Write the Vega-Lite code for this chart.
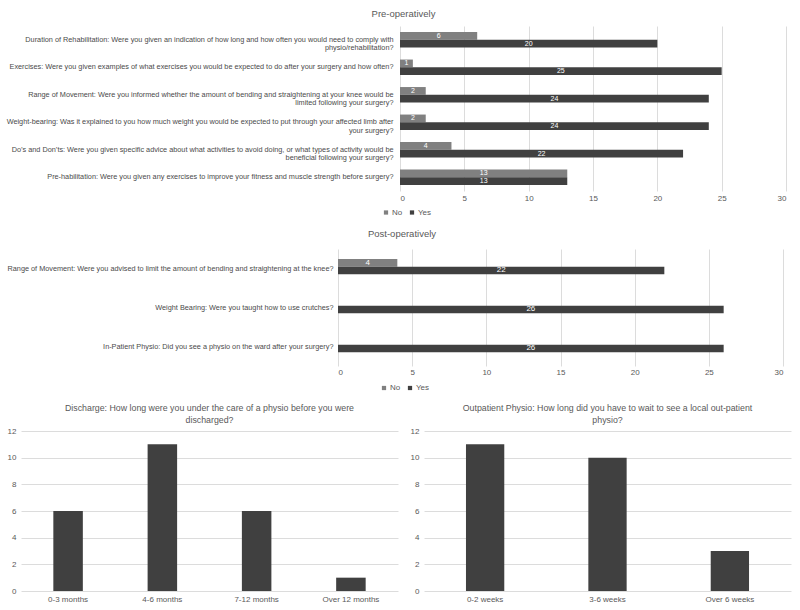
{
  "$schema": "https://vega.github.io/schema/vega-lite/v6.json",
  "padding": {"left": 6, "top": 8, "right": 5, "bottom": 2},
  "datasets": {
    "pre": [
      {"question": "Duration of Rehabilitation: Were you given an indication of how long and how often you would need to comply with|physio/rehabilitation?", "answer": "No", "count": 6},
      {"question": "Duration of Rehabilitation: Were you given an indication of how long and how often you would need to comply with|physio/rehabilitation?", "answer": "Yes", "count": 20},
      {"question": "Exercises: Were you given examples of what exercises you would be expected to do after your surgery and how often?", "answer": "No", "count": 1},
      {"question": "Exercises: Were you given examples of what exercises you would be expected to do after your surgery and how often?", "answer": "Yes", "count": 25},
      {"question": "Range of Movement: Were you informed whether the amount of bending and straightening at your knee would be|limited following your surgery?", "answer": "No", "count": 2},
      {"question": "Range of Movement: Were you informed whether the amount of bending and straightening at your knee would be|limited following your surgery?", "answer": "Yes", "count": 24},
      {"question": "Weight-bearing: Was it explained to you how much weight you would be expected to put through your affected limb after|your surgery?", "answer": "No", "count": 2},
      {"question": "Weight-bearing: Was it explained to you how much weight you would be expected to put through your affected limb after|your surgery?", "answer": "Yes", "count": 24},
      {"question": "Do’s and Don’ts: Were you given specific advice about what activities to avoid doing, or what types of activity would be|beneficial following your surgery?", "answer": "No", "count": 4},
      {"question": "Do’s and Don’ts: Were you given specific advice about what activities to avoid doing, or what types of activity would be|beneficial following your surgery?", "answer": "Yes", "count": 22},
      {"question": "Pre-habilitation: Were you given any exercises to improve your fitness and muscle strength before surgery?", "answer": "No", "count": 13},
      {"question": "Pre-habilitation: Were you given any exercises to improve your fitness and muscle strength before surgery?", "answer": "Yes", "count": 13}
    ],
    "post": [
      {"question": "Range of Movement: Were you advised to limit the amount of bending and straightening at the knee?", "answer": "No", "count": 4},
      {"question": "Range of Movement: Were you advised to limit the amount of bending and straightening at the knee?", "answer": "Yes", "count": 22},
      {"question": "Weight Bearing: Were you taught how to use crutches?", "answer": "Yes", "count": 26},
      {"question": "In-Patient Physio: Did you see a physio on the ward after your surgery?", "answer": "Yes", "count": 26}
    ],
    "discharge": [
      {"period": "0-3 months", "count": 6},
      {"period": "4-6 months", "count": 11},
      {"period": "7-12 months", "count": 6},
      {"period": "Over 12 months", "count": 1}
    ],
    "outpatient": [
      {"period": "0-2 weeks", "count": 11},
      {"period": "3-6 weeks", "count": 10},
      {"period": "Over 6 weeks", "count": 3}
    ]
  },
  "spacing": 12,
  "resolve": {"scale": {"color": "independent"}, "legend": {"color": "independent"}},
  "vconcat": [
    {
      "spacing": 11,
      "resolve": {"scale": {"color": "independent"}, "legend": {"color": "independent"}},
      "vconcat": [
        {
          "title": {"text": "Pre-operatively", "fontSize": 9.5, "offset": 8},
          "width": 765,
          "height": 165,
          "data": {"name": "pre"},
          "encoding": {
            "y": {"field": "question", "type": "nominal", "sort": null,
                  "scale": {"paddingInner": 0.44, "paddingOuter": 0.22},
                  "axis": {"title": null, "offset": -379, "labelPadding": 7, "labelFontSize": 7.3, "labelLineHeight": 8.5, "labelLimit": 0, "labelColor": "#4a4a4a", "labelExpr": "split(datum.label, '|')", "grid": false}},
            "yOffset": {"field": "answer", "type": "nominal", "sort": ["No", "Yes"]}
          },
          "resolve": {"scale": {"x": "independent"}},
          "layer": [
            {
              "mark": {"type": "bar"},
              "encoding": {
                "x": {"field": "count", "type": "quantitative",
                      "scale": {"domain": [0, 30], "range": [379, 765]},
                      "axis": {"title": null, "values": [0, 5, 10, 15, 20, 25, 30], "grid": true, "labelPadding": 3, "labelFontSize": 8}},
                "color": {"field": "answer", "type": "nominal",
                          "scale": {"domain": ["No", "Yes"], "range": ["#808080", "#404040"]},
                          "legend": {"title": null, "orient": "none", "legendX": 361, "legendY": 182.5, "direction": "horizontal", "symbolType": "square", "symbolSize": 18, "labelFontSize": 8, "labelOffset": 2, "labelColor": "#595959", "columnPadding": 5, "symbolStrokeWidth": 0}}
              }
            },
            {
              "mark": {"type": "text", "color": "white", "fontSize": 7},
              "encoding": {
                "x": {"field": "count", "type": "quantitative",
                      "scale": {"domain": [0, 60], "range": [379, 765]}, "axis": null},
                "text": {"field": "count", "type": "quantitative"}
              }
            }
          ]
        },
        {
          "title": {"text": "Post-operatively", "fontSize": 9.5, "offset": 11},
          "width": 762,
          "height": 117,
          "data": {"name": "post"},
          "encoding": {
            "y": {"field": "question", "type": "nominal", "sort": null,
                  "scale": {"paddingInner": 0.51, "paddingOuter": 0.255},
                  "axis": {"title": null, "offset": -317, "labelPadding": 5, "labelFontSize": 7.3, "labelLimit": 0, "labelColor": "#4a4a4a", "grid": false}},
            "yOffset": {"field": "answer", "type": "nominal", "sort": ["No", "Yes"], "scale": {"domain": ["No", "Yes"]}}
          },
          "resolve": {"scale": {"x": "independent"}},
          "layer": [
            {
              "mark": {"type": "bar"},
              "encoding": {
                "x": {"field": "count", "type": "quantitative",
                      "scale": {"domain": [0, 30], "range": [317, 762]},
                      "axis": {"title": null, "values": [0, 5, 10, 15, 20, 25, 30], "grid": true, "labelPadding": 2, "labelFontSize": 8}},
                "color": {"field": "answer", "type": "nominal",
                          "scale": {"domain": ["No", "Yes"], "range": ["#808080", "#404040"]},
                          "legend": {"title": null, "orient": "none", "legendX": 359, "legendY": 135, "direction": "horizontal", "symbolType": "square", "symbolSize": 18, "labelFontSize": 8, "labelOffset": 2, "labelColor": "#595959", "columnPadding": 5, "symbolStrokeWidth": 0}}
              }
            },
            {
              "mark": {"type": "text", "color": "white", "fontSize": 8},
              "encoding": {
                "x": {"field": "count", "type": "quantitative",
                      "scale": {"domain": [0, 60], "range": [317, 762]}, "axis": null},
                "text": {"field": "count", "type": "quantitative"}
              }
            }
          ]
        }
      ]
    },
    {
      "spacing": 12,
      "hconcat": [
        {
          "title": {"text": ["Discharge: How long were you under the care of a physio before you were", "discharged?"], "fontSize": 8.8, "lineHeight": 12, "offset": 2},
          "width": 377,
          "height": 160,
          "data": {"name": "discharge"},
          "mark": {"type": "bar", "color": "#404040"},
          "encoding": {
            "x": {"field": "period", "type": "nominal", "sort": null,
                  "scale": {"paddingInner": 0.687, "paddingOuter": 0.343},
                  "axis": {"title": null, "labelAngle": 0, "labelFontSize": 8, "labelPadding": 4}},
            "y": {"field": "count", "type": "quantitative",
                  "scale": {"domain": [0, 12]},
                  "axis": {"title": null, "values": [0, 2, 4, 6, 8, 10, 12], "grid": true, "labelFontSize": 8, "labelPadding": 5}}
          }
        },
        {
          "title": {"text": ["Outpatient Physio: How long did you have to wait to see a local out-patient", "physio?"], "fontSize": 8.8, "lineHeight": 12, "offset": 2},
          "width": 367,
          "height": 160,
          "data": {"name": "outpatient"},
          "mark": {"type": "bar", "color": "#404040"},
          "encoding": {
            "x": {"field": "period", "type": "nominal", "sort": null,
                  "scale": {"paddingInner": 0.687, "paddingOuter": 0.343},
                  "axis": {"title": null, "labelAngle": 0, "labelFontSize": 8, "labelPadding": 4}},
            "y": {"field": "count", "type": "quantitative",
                  "scale": {"domain": [0, 12]},
                  "axis": {"title": null, "values": [0, 2, 4, 6, 8, 10, 12], "grid": true, "labelFontSize": 8, "labelPadding": 5}}
          }
        }
      ]
    }
  ],
  "config": {
    "font": "Liberation Sans",
    "view": {"stroke": null},
    "axis": {"labelFont": "Liberation Sans", "labelColor": "#595959", "gridColor": "#dcdcdc", "gridWidth": 1, "domain": false, "ticks": false},
    "title": {"font": "Liberation Sans", "fontWeight": "normal", "color": "#595959", "anchor": "middle"},
    "legend": {"labelFont": "Liberation Sans"}
  }
}
